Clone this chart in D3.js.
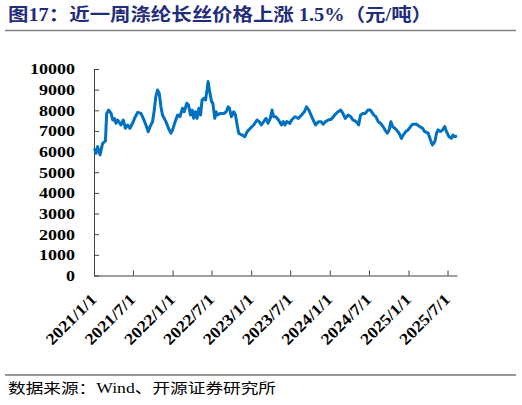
<!DOCTYPE html>
<html>
<head>
<meta charset="utf-8">
<script src="https://cdn.jsdelivr.net/npm/d3@7"></script>
<style>
  body { margin: 0; background: #fff; }
  svg { display: block; }
</style>
</head>
<body>
<div class="chart"></div>
<script>
// 涤纶长丝价格（元/吨）
const dates = [
  '2021-01-04','2021-01-10','2021-01-18','2021-01-29','2021-02-10','2021-02-23','2021-03-01','2021-03-10',
  '2021-03-21','2021-03-29','2021-04-06','2021-04-13','2021-04-21','2021-05-06','2021-05-17','2021-05-27',
  '2021-06-06','2021-06-17','2021-06-29','2021-07-12','2021-07-23','2021-08-07','2021-08-18','2021-08-30',
  '2021-09-10','2021-09-18','2021-09-30','2021-10-08','2021-10-15','2021-10-23','2021-10-31','2021-11-08',
  '2021-11-15','2021-12-01','2021-12-13','2021-12-24','2022-01-01','2022-01-13','2022-01-24','2022-02-04',
  '2022-02-16','2022-02-24','2022-03-08','2022-03-16','2022-03-25','2022-04-02','2022-04-09','2022-04-17',
  '2022-04-25','2022-05-03','2022-05-11','2022-05-18','2022-05-26','2022-06-03','2022-06-11','2022-06-15',
  '2022-06-21','2022-07-01','2022-07-07','2022-07-16','2022-07-22','2022-07-27','2022-08-11','2022-08-27',
  '2022-09-07','2022-09-16','2022-09-22','2022-10-01','2022-10-12','2022-10-20','2022-10-28','2022-11-04',
  '2022-11-20','2022-12-02','2022-12-13','2022-12-28','2023-01-13','2023-01-28','2023-02-08','2023-02-17',
  '2023-02-28','2023-03-11','2023-03-20','2023-03-31','2023-04-08','2023-04-15','2023-04-26','2023-05-08',
  '2023-05-22','2023-05-30','2023-06-07','2023-06-15','2023-06-30','2023-07-08','2023-07-23','2023-08-08',
  '2023-08-23','2023-09-05','2023-09-15','2023-09-26','2023-10-06','2023-10-16','2023-10-27','2023-11-09',
  '2023-11-21','2023-12-02','2023-12-12','2023-12-25','2024-01-08','2024-01-24','2024-02-08','2024-02-21',
  '2024-03-02','2024-03-13','2024-03-26','2024-04-07','2024-04-18','2024-05-03','2024-05-14','2024-05-23',
  '2024-06-03','2024-06-14','2024-06-26','2024-07-08','2024-07-24','2024-08-02','2024-08-13','2024-08-24',
  '2024-09-05','2024-09-13','2024-09-24','2024-10-03','2024-10-11','2024-10-19','2024-10-29','2024-11-06',
  '2024-11-18','2024-11-29','2024-12-07','2024-12-19','2024-12-30','2025-01-10','2025-01-19','2025-02-07',
  '2025-02-22','2025-03-07','2025-03-17','2025-04-02','2025-04-13','2025-04-22','2025-05-03','2025-05-11',
  '2025-05-18','2025-05-29','2025-06-08','2025-06-18','2025-06-26','2025-07-08','2025-07-19','2025-07-26',
  '2025-08-03','2025-08-14'
]
const prices = [
  6160,5920,6240,5840,6400,6510,7850,8010,
  7860,7530,7600,7370,7530,7290,7530,7130,
  7290,7130,7370,7690,7900,7850,7610,7290,
  6960,7200,7450,8010,8660,8980,8820,8170,
  7770,7450,7130,6890,7050,7450,7770,7690,
  8100,7930,8340,8250,7770,8010,7610,7930,
  7610,8100,7770,8500,8580,8500,9060,9390,
  8980,8420,8340,7610,7930,7770,7850,7850,
  7930,8170,8100,7690,7930,7770,7290,6890,
  6800,6720,6960,7130,7290,7530,7450,7290,
  7450,7610,7370,7610,8010,7690,7690,7530,
  7290,7450,7290,7450,7370,7530,7690,7610,
  7770,7930,8170,8010,7770,7530,7290,7450,
  7450,7330,7450,7530,7570,7770,7930,8010,
  7850,7610,7770,7690,7530,7450,7290,7770,
  7850,7850,8010,8010,7770,7690,7450,7370,
  7210,7050,6890,7050,7450,7210,7130,7050,
  6890,6640,6800,6970,7050,7210,7320,7320,
  7210,7130,6970,6890,6560,6320,6480,6890,
  7050,6970,7050,7210,6970,6720,6640,6800,
  6720,6760
]
const yTicks = [0,1000,2000,3000,4000,5000,6000,7000,8000,9000,10000]
const xTickLabels = ['2021/1/1','2021/7/1','2022/1/1','2022/7/1','2023/1/1','2023/7/1','2024/1/1','2024/7/1','2025/1/1','2025/7/1']

const W = 522, H = 405
const plot = { left: 94, right: 457, top: 69, bottom: 275.5 }
const parse = d3.timeParse('%Y-%m-%d')
const tickParse = d3.timeParse('%Y/%m/%d')
const series = dates.map((d, i) => ({ date: parse(d), value: prices[i] }))

const svg = d3.select('.chart').append('svg')
  .attr('width', W).attr('height', H)

svg.append('rect').attr('width', W).attr('height', H).attr('fill', '#fff')

// 标题
svg.append('text')
  .attr('x', 8).attr('y', 21)
  .attr('font-family', '"Liberation Serif","Noto Sans CJK SC",serif')
  .attr('font-weight', 'bold')
  .attr('font-size', 18)
  .attr('fill', '#1F2D7B')
  .attr('textLength', 424)
  .attr('lengthAdjust', 'spacingAndGlyphs')
  .text('图17：近一周涤纶长丝价格上涨 1.5%（元/吨）')

svg.append('line').attr('x1', 5).attr('x2', 516).attr('y1', 30.5).attr('y2', 30.5)
  .attr('stroke', '#808080').attr('stroke-width', 1.5)

const x = d3.scaleTime()
  .domain([tickParse('2021/1/1'), series[series.length - 1].date])
  .range([plot.left, plot.right])
const y = d3.scaleLinear()
  .domain([0, 10000])
  .range([plot.bottom, plot.top])

//y轴
const gy = svg.append('g')
  .attr('transform', `translate(${plot.left},0)`)
  .call(d3.axisLeft(y).tickValues(yTicks).tickFormat(d3.format('d'))
    .tickSizeInner(-5).tickSizeOuter(0).tickPadding(19))
gy.select('.domain').attr('stroke', '#404040')
gy.selectAll('.tick line').attr('stroke', '#404040')
gy.selectAll('.tick text')
  .attr('font-family', '"Liberation Serif",serif')
  .attr('font-weight', 'bold')
  .attr('font-size', 15)
  .attr('fill', '#000')
  .attr('textLength', d => String(d).length * 9)
  .attr('lengthAdjust', 'spacingAndGlyphs')

//x轴
const gx = svg.append('g')
  .attr('transform', `translate(0,${plot.bottom})`)
  .call(d3.axisBottom(x).tickValues(xTickLabels.map(s => tickParse(s)))
    .tickFormat(d3.timeFormat('%Y/%-m/%-d'))
    .tickSizeInner(-5).tickSizeOuter(0))
gx.select('.domain').attr('stroke', '#404040')
gx.selectAll('.tick line').attr('stroke', '#404040')
gx.selectAll('.tick text')
  .attr('x', 0).attr('y', 0).attr('dy', 0)
  .attr('transform', 'translate(3,25) rotate(-45)')
  .attr('text-anchor', 'end')
  .attr('font-family', '"Liberation Serif",serif')
  .attr('font-weight', 'bold')
  .attr('font-size', 16)
  .attr('fill', '#000')
  .attr('textLength', 64)
  .attr('lengthAdjust', 'spacingAndGlyphs')

//折线
const line = d3.line().x(d => x(d.date)).y(d => y(d.value))
svg.append('path')
  .datum(series)
  .attr('d', line)
  .attr('fill', 'none')
  .attr('stroke', '#0070C0')
  .attr('stroke-width', 3)
  .attr('stroke-linejoin', 'round')

// 数据来源
svg.append('line').attr('x1', 5).attr('x2', 516).attr('y1', 375).attr('y2', 375)
  .attr('stroke', '#333').attr('stroke-width', 1)
svg.append('text')
  .attr('x', 8).attr('y', 393)
  .attr('font-family', '"Liberation Serif","Noto Sans CJK SC",serif')
  .attr('font-size', 14)
  .attr('fill', '#000')
  .attr('textLength', 268)
  .attr('lengthAdjust', 'spacingAndGlyphs')
  .text('数据来源：Wind、开源证券研究所')
</script>
</body>
</html>
